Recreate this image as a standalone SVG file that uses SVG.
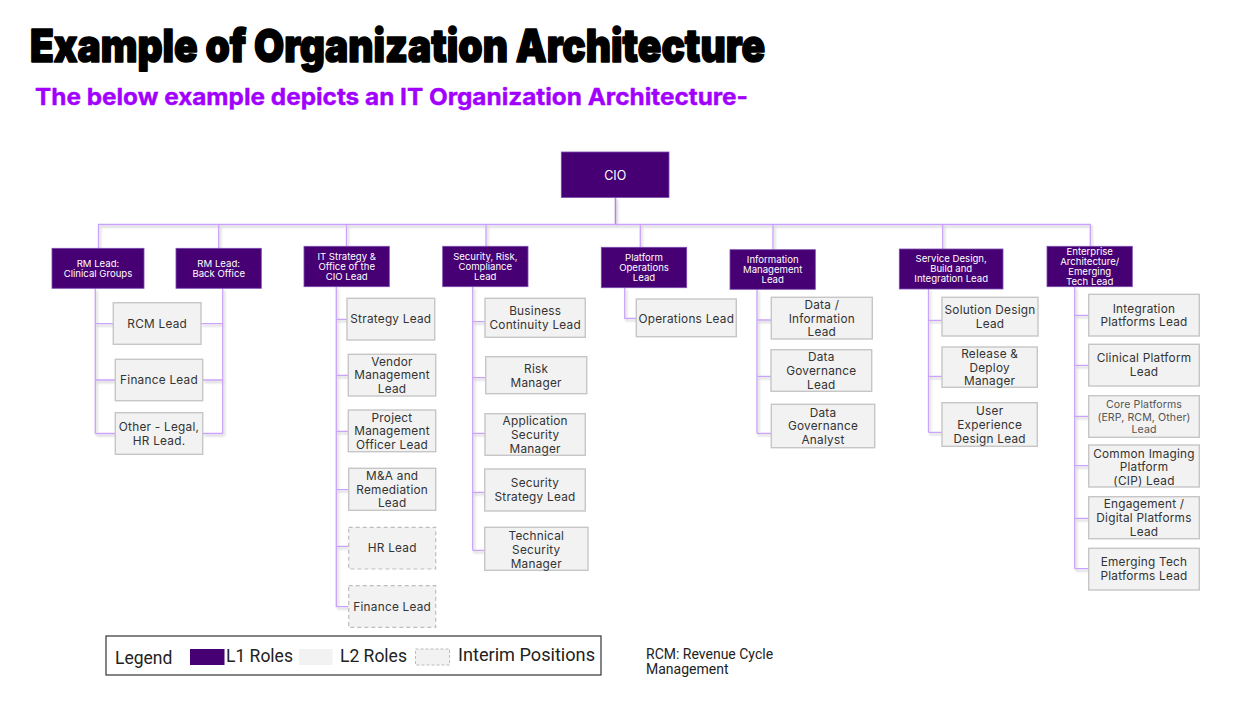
<svg xmlns="http://www.w3.org/2000/svg" width="1252" height="701" viewBox="0 0 1252 701">
<defs>
<filter id="sh" x="-5%" y="-5%" width="110%" height="110%">
<feDropShadow dx="1.5" dy="2" stdDeviation="0.8" flood-color="#000" flood-opacity="0.22"/>
</filter>
<style>
.l1{fill:#460073;stroke:#7b4bb0;stroke-width:0.8}
.l1t{font-family:Inter,"Noto Sans",sans-serif;font-size:9.6px;fill:#ffffff;text-anchor:middle}
.l2{fill:#f2f2f2;stroke:#c6c6c6;stroke-width:1.4}
.im{fill:#f2f2f2;stroke:#bdbdbd;stroke-width:1.2;stroke-dasharray:4 3}
.l2t{font-family:Inter,"Noto Sans",sans-serif;font-size:11.8px;fill:#333333;text-anchor:middle;letter-spacing:0.25px}
.sm{font-size:10.6px;fill:#555555;letter-spacing:0.1px}
.cn{fill:none;stroke:#c9a2fb;stroke-width:1.3}
.lg{font-family:Roboto,"Liberation Sans",sans-serif;font-size:17.5px;fill:#222222}
</style>
</defs>
<rect width="1252" height="701" fill="#ffffff"/>
<text x="30" y="62" font-family="Inter,'Liberation Sans',sans-serif" font-weight="900" font-size="46" fill="#000000" stroke="#000000" stroke-width="1.6" stroke-linejoin="round" textLength="735" lengthAdjust="spacingAndGlyphs">Example of Organization Architecture</text>
<text x="35" y="105" font-family="Inter,'Liberation Sans',sans-serif" font-weight="700" font-size="23.5" fill="#a100ff" stroke="#a100ff" stroke-width="0.4" textLength="713" lengthAdjust="spacingAndGlyphs">The below example depicts an IT Organization Architecture-</text>

<g id="connectors" filter="url(#sh)">
<path class="cn" d="M615.5 197.5V224.5" style="stroke:#b08ad8;stroke-width:1.6"/>
<path class="cn" d="M98.5 248V224.5H1090.3V246.5"/>
<path class="cn" d="M218.7 224.5V248M346.5 224.5V246.5M486 224.5V246.5M640.3 224.5V247.5M773 224.5V249.5M942.7 224.5V249"/>
<path class="cn" d="M95.3 288.5V433.5M95.3 323.7H113M95.3 380H115M95.3 433.5H115"/>
<path class="cn" d="M222.7 288.5V433.5M201 323.7H222.7M203 380H222.7M203 433.5H222.7"/>
<path class="cn" d="M336.3 286.7V606.7M336.3 319.3H347M336.3 375.3H348.3M336.3 431.3H348.3M336.3 489.7H348.7M336.3 546.3H348.7M336.3 606.7H348.7"/>
<path class="cn" d="M472.7 286.7V550.3M472.7 321.7H485M472.7 377.7H485.7M472.7 433.3H485M472.7 492.3H484.7M472.7 550.3H484.7"/>
<path class="cn" d="M624.7 287.7V318.3H636.3"/>
<path class="cn" d="M757 289.3V433.3M757 320H771.3M757 376.3H771M757 433.3H771.3"/>
<path class="cn" d="M928.5 289V432.3M928.5 320.3H942M928.5 376.3H942M928.5 432.3H942"/>
<path class="cn" d="M1074.7 286.7V568.7M1074.7 315.3H1088.7M1074.7 365.3H1088.7M1074.7 416.3H1088.7M1074.7 465.7H1088.7M1074.7 518.3H1088.7M1074.7 568.7H1088.7"/>
</g>

<g id="cio"><rect class="l1" x="561.3" y="152" width="107.7" height="45.5"/><text x="615.2" y="179.5" font-family="Inter,'Noto Sans',sans-serif" font-size="12.5" fill="#ffffff" text-anchor="middle">CIO</text></g>

<g id="rm-clinical"><rect class="l1" x="52" y="248.3" width="92" height="40"/><text class="l1t" x="98" y="267">RM Lead:</text><text class="l1t" x="98" y="276.6">Clinical Groups</text></g>
<g id="rm-back"><rect class="l1" x="176" y="248.3" width="85.3" height="40"/><text class="l1t" x="218.7" y="267">RM Lead:</text><text class="l1t" x="218.7" y="276.6">Back Office</text></g>
<g id="it-strategy"><rect class="l1" x="304" y="246.3" width="85.3" height="40.4"/><text class="l1t" x="346.7" y="260.3">IT Strategy &amp;</text><text class="l1t" x="346.7" y="270">Office of the</text><text class="l1t" x="346.7" y="279.6">CIO Lead</text></g>
<g id="security"><rect class="l1" x="442.7" y="246.3" width="85.3" height="40.4"/><text class="l1t" x="485.3" y="260.3">Security, Risk,</text><text class="l1t" x="485.3" y="270.3">Compliance</text><text class="l1t" x="485.3" y="280">Lead</text></g>
<g id="platform"><rect class="l1" x="601.3" y="247.3" width="85.4" height="40.4"/><text class="l1t" x="644" y="261.3">Platform</text><text class="l1t" x="644" y="271.3">Operations</text><text class="l1t" x="644" y="281">Lead</text></g>
<g id="info-mgmt"><rect class="l1" x="730" y="249.7" width="85.3" height="39.6"/><text class="l1t" x="772.7" y="263">Information</text><text class="l1t" x="772.7" y="272.6">Management</text><text class="l1t" x="772.7" y="282.6">Lead</text></g>
<g id="service-design"><rect class="l1" x="899.3" y="249" width="103.7" height="40"/><text class="l1t" x="951.2" y="262.3">Service Design,</text><text class="l1t" x="951.2" y="272.3">Build and</text><text class="l1t" x="951.2" y="282">Integration Lead</text></g>
<g id="enterprise"><rect class="l1" x="1047" y="246.3" width="85.3" height="40.4"/><text class="l1t" x="1089.7" y="255.3">Enterprise</text><text class="l1t" x="1089.7" y="265">Architecture/</text><text class="l1t" x="1089.7" y="275">Emerging</text><text class="l1t" x="1089.7" y="285">Tech Lead</text></g>

<g id="rcm-lead"><rect class="l2" x="113.3" y="302.7" width="87.7" height="41.6"/><text class="l2t" x="157.2" y="327.8">RCM Lead</text></g>
<g id="finance-lead-1"><rect class="l2" x="115.3" y="359.3" width="87.4" height="41.4"/><text class="l2t" x="159" y="384.3">Finance Lead</text></g>
<g id="other-legal"><rect class="l2" x="115.3" y="412.7" width="87.4" height="41.6"/><text class="l2t" x="159" y="431">Other - Legal,</text><text class="l2t" x="159" y="444.6">HR Lead.</text></g>

<g id="strategy-lead"><rect class="l2" x="347" y="298.3" width="87.7" height="41.7"/><text class="l2t" x="390.8" y="323.3">Strategy Lead</text></g>
<g id="vendor-mgmt"><rect class="l2" x="348.3" y="354.3" width="87.4" height="41.7"/><text class="l2t" x="392" y="365.6">Vendor</text><text class="l2t" x="392" y="379.3">Management</text><text class="l2t" x="392" y="393">Lead</text></g>
<g id="pmo-lead"><rect class="l2" x="348.3" y="410" width="87.4" height="41.7"/><text class="l2t" x="392" y="421.6">Project</text><text class="l2t" x="392" y="435.3">Management</text><text class="l2t" x="392" y="449">Officer Lead</text></g>
<g id="ma-lead"><rect class="l2" x="348.7" y="468.3" width="87" height="42"/><text class="l2t" x="392.2" y="479.9">M&amp;A and</text><text class="l2t" x="392.2" y="493.6">Remediation</text><text class="l2t" x="392.2" y="507.3">Lead</text></g>
<g id="hr-lead"><rect class="im" x="348.7" y="527.3" width="87" height="41.7"/><text class="l2t" x="392.2" y="552.4">HR Lead</text></g>
<g id="finance-lead-2"><rect class="im" x="348.7" y="585.7" width="87" height="41.6"/><text class="l2t" x="392.2" y="610.8">Finance Lead</text></g>

<g id="business-continuity"><rect class="l2" x="485" y="298.3" width="100.3" height="39"/><text class="l2t" x="535.2" y="315.3">Business</text><text class="l2t" x="535.2" y="329">Continuity Lead</text></g>
<g id="risk-manager"><rect class="l2" x="485.7" y="356.7" width="101" height="37"/><text class="l2t" x="536.2" y="373">Risk</text><text class="l2t" x="536.2" y="386.6">Manager</text></g>
<g id="app-security"><rect class="l2" x="485" y="413.7" width="100.3" height="41.6"/><text class="l2t" x="535.2" y="425.3">Application</text><text class="l2t" x="535.2" y="439.3">Security</text><text class="l2t" x="535.2" y="453">Manager</text></g>
<g id="security-strategy"><rect class="l2" x="484.7" y="469" width="100.6" height="42"/><text class="l2t" x="535" y="487.3">Security</text><text class="l2t" x="535" y="501">Strategy Lead</text></g>
<g id="technical-security"><rect class="l2" x="484.7" y="527.3" width="103.3" height="43"/><text class="l2t" x="536.3" y="540">Technical</text><text class="l2t" x="536.3" y="554">Security</text><text class="l2t" x="536.3" y="567.6">Manager</text></g>

<g id="operations-lead"><rect class="l2" x="636.3" y="299" width="100" height="37.7"/><text class="l2t" x="686.3" y="322.6">Operations Lead</text></g>

<g id="data-info"><rect class="l2" x="771.3" y="297.3" width="101" height="41.7"/><text class="l2t" x="821.8" y="308.6">Data /</text><text class="l2t" x="821.8" y="322.6">Information</text><text class="l2t" x="821.8" y="336.3">Lead</text></g>
<g id="data-gov-lead"><rect class="l2" x="771" y="349.7" width="100.7" height="41.6"/><text class="l2t" x="821.3" y="361.3">Data</text><text class="l2t" x="821.3" y="375.3">Governance</text><text class="l2t" x="821.3" y="389">Lead</text></g>
<g id="data-gov-analyst"><rect class="l2" x="771.3" y="404.3" width="103.4" height="43.4"/><text class="l2t" x="823" y="416.6">Data</text><text class="l2t" x="823" y="430.3">Governance</text><text class="l2t" x="823" y="444.3">Analyst</text></g>

<g id="solution-design"><rect class="l2" x="942" y="297.3" width="96" height="38.7"/><text class="l2t" x="990" y="314.3">Solution Design</text><text class="l2t" x="990" y="328">Lead</text></g>
<g id="release-deploy"><rect class="l2" x="942" y="347" width="95.3" height="40.3"/><text class="l2t" x="989.7" y="357.6">Release &amp;</text><text class="l2t" x="989.7" y="372">Deploy</text><text class="l2t" x="989.7" y="385.3">Manager</text></g>
<g id="ux-design"><rect class="l2" x="942" y="402.7" width="95.3" height="43.6"/><text class="l2t" x="989.7" y="415.3">User</text><text class="l2t" x="989.7" y="429.3">Experience</text><text class="l2t" x="989.7" y="443">Design Lead</text></g>

<g id="integration-platforms"><rect class="l2" x="1088.7" y="294.3" width="110.6" height="41.7"/><text class="l2t" x="1144" y="312.6">Integration</text><text class="l2t" x="1144" y="326.3">Platforms Lead</text></g>
<g id="clinical-platform"><rect class="l2" x="1088.7" y="344.3" width="110.6" height="41.7"/><text class="l2t" x="1144" y="362.3">Clinical Platform</text><text class="l2t" x="1144" y="376">Lead</text></g>
<g id="core-platforms"><rect class="l2" x="1088.7" y="395.7" width="110.6" height="41.6"/><text class="l2t sm" x="1144" y="408.3">Core Platforms</text><text class="l2t sm" x="1144" y="420.7">(ERP, RCM, Other)</text><text class="l2t sm" x="1144" y="432.7">Lead</text></g>
<g id="common-imaging"><rect class="l2" x="1088.7" y="445" width="110.6" height="42"/><text class="l2t" x="1144" y="457.6">Common Imaging</text><text class="l2t" x="1144" y="471">Platform</text><text class="l2t" x="1144" y="484.6">(CIP) Lead</text></g>
<g id="engagement-digital"><rect class="l2" x="1088.7" y="496.7" width="110.6" height="42"/><text class="l2t" x="1144" y="508.3">Engagement /</text><text class="l2t" x="1144" y="522.3">Digital Platforms</text><text class="l2t" x="1144" y="535.6">Lead</text></g>
<g id="emerging-tech"><rect class="l2" x="1088.7" y="548.3" width="110.6" height="41.7"/><text class="l2t" x="1144" y="566.3">Emerging Tech</text><text class="l2t" x="1144" y="580">Platforms Lead</text></g>

<g id="legend">
<rect x="106" y="636" width="495" height="39" fill="#ffffff" stroke="#333333" stroke-width="1.2"/>
<text class="lg" x="115" y="664">Legend</text>
<rect x="190" y="649" width="34.5" height="16" fill="#460073"/>
<text class="lg" x="226" y="662">L1 Roles</text>
<rect x="299" y="649" width="33.5" height="16" fill="#f2f2f2"/>
<text class="lg" x="340" y="662">L2 Roles</text>
<rect x="415.5" y="649" width="34" height="16" fill="#f2f2f2" stroke="#bdbdbd" stroke-width="1" stroke-dasharray="3 2"/>
<text class="lg" x="458" y="661" textLength="137" lengthAdjust="spacingAndGlyphs">Interim Positions</text>
</g>
<g id="note">
<text x="646" y="659" font-family="Roboto,'Liberation Sans',sans-serif" font-size="14" fill="#222222">RCM: Revenue Cycle</text>
<text x="646" y="674" font-family="Roboto,'Liberation Sans',sans-serif" font-size="14" fill="#222222">Management</text>
</g>
</svg>
